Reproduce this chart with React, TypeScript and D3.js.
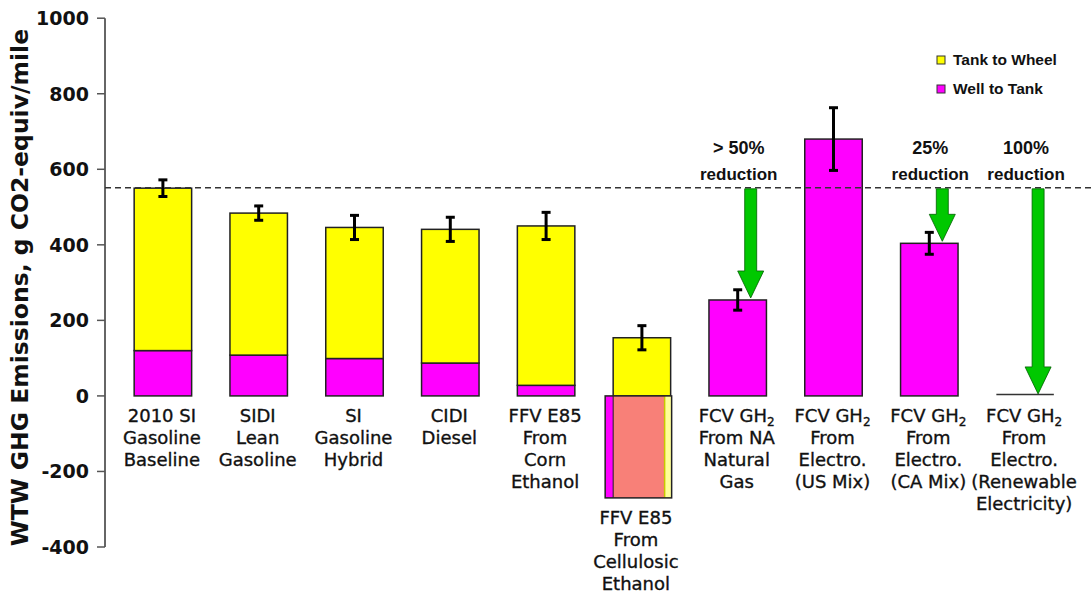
import React from 'react';
import * as d3 from 'd3';

const categoryLines: string[][] = [
  ['2010 SI', 'Gasoline', 'Baseline'],
  ['SIDI', 'Lean', 'Gasoline'],
  ['SI', 'Gasoline', 'Hybrid'],
  ['CIDI', 'Diesel'],
  ['FFV E85', 'From', 'Corn', 'Ethanol'],
  ['FFV E85', 'From', 'Cellulosic', 'Ethanol'],
  ['FCV GH_2', 'From NA', 'Natural', 'Gas'],
  ['FCV GH_2', 'From', 'Electro.', '(US Mix)'],
  ['FCV GH_2', 'From', 'Electro.', '(CA Mix)'],
  ['FCV GH_2', 'From', 'Electro.', '(Renewable', 'Electricity)'],
];
const categories = categoryLines.map((l) => l.join(' '));
const wellToTank = [120, 108, 99, 87, 28, -270, 254, 680, 404, 0];
const tankToWheel = [430, 376, 347, 354, 422, 154, 0, 0, 0, 0];
const errorMargin = [22, 19, 32, 32, 36, 32, 27, 83, 29, 0];
const reductionLabels: (string | null)[] = [null, null, null, null, null, null, '> 50%', null, '25%', '100%'];
const baselineValue = 551;
const yTicks = [-400, -200, 0, 200, 400, 600, 800, 1000];
const legendItems = ['Tank to Wheel', 'Well to Tank'];

const W = 1091;
const H = 594;
const YELLOW = '#FFFF00';
const MAGENTA = '#FF00FF';
const SALMON = '#F88078';
const PALE = '#FFFF99';
const GREEN = '#00C800';
const SANS = '"DejaVu Sans", Verdana, sans-serif';
const ARIAL = '"Liberation Sans", Arial, sans-serif';

function Label({ text, x, y }: { text: string; x: number; y: number }) {
  const common = {
    x,
    y,
    textAnchor: 'middle' as const,
    fontFamily: SANS,
    fontSize: 18,
    fill: '#111',
    stroke: '#111',
    strokeWidth: 0.35,
  };
  if (text.includes('_')) {
    const [main, sub] = text.split('_');
    return (
      <text {...common}>
        {main}
        <tspan fontSize={12} dy={4}>{sub}</tspan>
      </text>
    );
  }
  return <text {...common}>{text}</text>;
}

export default function App() {
  const y = d3.scaleLinear().domain([-400, 1000]).range([547, 18.2]);
  const x = d3
    .scaleBand<string>()
    .domain(categories)
    .range([115, 1073])
    .paddingInner(0.4)
    .paddingOuter(0.2);
  const bw = x.bandwidth();
  const axisX = 105;

  return (
    <svg width={W} height={H} style={{ position: 'absolute', left: 0, top: 0, background: '#fff' }}>
      {/* y axis */}
      <line x1={axisX} x2={axisX} y1={y(1000)} y2={y(-400)} stroke="#333" strokeWidth={1.5} />
      {yTicks.map((t) => (
        <g key={t}>
          <line x1={axisX - 8} x2={axisX} y1={y(t)} y2={y(t)} stroke="#555" strokeWidth={1.5} />
          <text
            x={axisX - 16}
            y={y(t)}
            dy="0.36em"
            textAnchor="end"
            fontFamily={SANS}
            fontWeight="bold"
            fontSize={19}
            fill="#111"
          >
            {t}
          </text>
        </g>
      ))}
      <text
        transform={`translate(28,${(y(1000) + y(-400)) / 2 + 5}) rotate(-90)`}
        textAnchor="middle"
        fontFamily={SANS}
        fontWeight="bold"
        fontSize={23.5}
        fill="#111"
      >
        WTW GHG Emissions, g CO2-equiv/mile
      </text>

      {/* bars */}
      {categories.map((c, i) => {
        const x0 = x(c)!;
        const wtt = wellToTank[i];
        const ttw = tankToWheel[i];
        const posBase = Math.max(wtt, 0);
        const top = posBase + ttw;
        const els: React.ReactNode[] = [];
        if (wtt > 0) {
          els.push(
            <rect key="wtt" x={x0} y={y(wtt)} width={bw} height={y(0) - y(wtt)} fill={MAGENTA} stroke="#222" strokeWidth={1.5} />
          );
        }
        if (ttw > 0) {
          els.push(
            <rect key="ttw" x={x0} y={y(posBase + ttw)} width={bw} height={y(posBase) - y(posBase + ttw)} fill={YELLOW} stroke="#222" strokeWidth={1.5} />
          );
        }
        if (wtt < 0) {
          const nx = x0 - 8;
          const nw = bw + 9;
          const hgt = y(wtt) - y(0);
          els.push(
            <g key="neg">
              <rect x={nx} y={y(0)} width={nw} height={hgt} fill={MAGENTA} />
              <rect x={x0} y={y(0)} width={nw - 14} height={hgt} fill={SALMON} />
              <rect x={nx + nw - 7} y={y(0)} width={7} height={hgt} fill={PALE} />
              <line x1={nx + nw - 7} x2={nx + nw - 7} y1={y(0)} y2={y(wtt)} stroke="#C8C800" strokeWidth={1.5} />
              <line x1={x0} x2={x0} y1={y(0)} y2={y(wtt)} stroke="#222" strokeWidth={1} />
              <rect x={nx} y={y(0)} width={nw} height={hgt} fill="none" stroke="#222" strokeWidth={1.5} />
            </g>
          );
        }
        if (wtt === 0 && ttw === 0) {
          els.push(<line key="zero" x1={x0} x2={x0 + bw} y1={y(0) - 1.5} y2={y(0) - 1.5} stroke="#333" strokeWidth={1.5} />);
        }
        const e = errorMargin[i];
        if (e > 0) {
          const cx = x0 + bw / 2;
          els.push(
            <g key="err" stroke="#000" strokeWidth={3}>
              <line x1={cx} x2={cx} y1={y(top + e)} y2={y(top - e)} />
              <line x1={cx - 4.5} x2={cx + 4.5} y1={y(top + e)} y2={y(top + e)} />
              <line x1={cx - 4.5} x2={cx + 4.5} y1={y(top - e)} y2={y(top - e)} />
            </g>
          );
        }
        const labelTop = (wtt < 0 ? y(wtt) : y(0)) + 26;
        const cxl = wtt < 0 ? x0 + bw / 2 - 6 : x0 + bw / 2 - 1;
        categoryLines[i].forEach((ln, k) => {
          els.push(<Label key={'l' + k} text={ln} x={cxl} y={labelTop + k * 22} />);
        });
        return <g key={c}>{els}</g>;
      })}

      {/* baseline dashed line */}
      <line
        x1={axisX}
        x2={W}
        y1={y(baselineValue)}
        y2={y(baselineValue)}
        stroke="#333"
        strokeWidth={1.5}
        strokeDasharray="6,4"
      />

      {/* reduction arrows + annotations */}
      {categories.map((c, i) => {
        const lab = reductionLabels[i];
        if (!lab) return null;
        const cx = x(c)! + bw / 2;
        const ax = cx + 13;
        const top = Math.max(wellToTank[i], 0) + tankToWheel[i];
        const y0 = y(baselineValue) + 1;
        const tip = y(top) - 2;
        const headLen = 27;
        const sw = 6;
        const hw = 13;
        const path = [
          [ax - sw, y0],
          [ax + sw, y0],
          [ax + sw, tip - headLen],
          [ax + hw, tip - headLen],
          [ax, tip],
          [ax - hw, tip - headLen],
          [ax - sw, tip - headLen],
        ];
        return (
          <g key={'a' + c}>
            <path d={d3.line()(path as [number, number][])! + 'Z'} fill={GREEN} stroke="#006000" strokeWidth={0.8} />
            <text x={cx + 1} y={154} textAnchor="middle" fontFamily={ARIAL} fontWeight="bold" fontSize={18} fill="#111">
              {lab}
            </text>
            <text x={cx + 1} y={180} textAnchor="middle" fontFamily={ARIAL} fontWeight="bold" fontSize={17} fill="#111">
              reduction
            </text>
          </g>
        );
      })}

      {/* legend */}
      {legendItems.map((l, k) => (
        <g key={l} transform={`translate(937,${56 + k * 29})`}>
          <rect x={0} y={0} width={8} height={8} fill={k === 0 ? YELLOW : MAGENTA} stroke="#333" strokeWidth={1} />
          <text x={16} y={9} fontFamily={ARIAL} fontWeight="bold" fontSize={15.5} fill="#111">
            {l}
          </text>
        </g>
      ))}
    </svg>
  );
}
